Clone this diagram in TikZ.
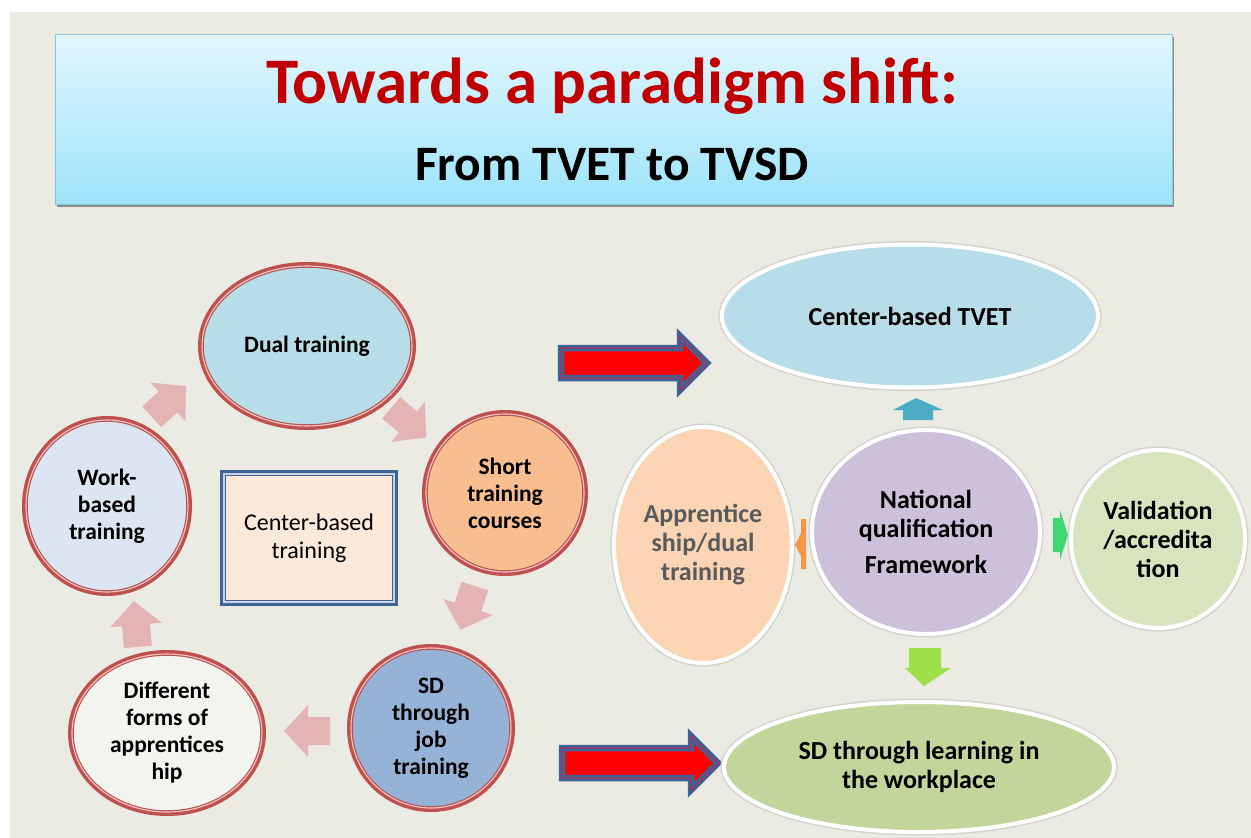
\documentclass[tikz,border=0pt]{standalone}
\usepackage{fontspec}
\setmainfont{Carlito}
\usetikzlibrary{shapes.geometric}
\definecolor{pagebg}{HTML}{EBEAE3}
\definecolor{ringred}{HTML}{C0504D}
\definecolor{ringpink}{HTML}{EDCBCA}
\definecolor{titlered}{HTML}{C00000}
\definecolor{titletop}{HTML}{E2F6FD}
\definecolor{titlebot}{HTML}{9DE4FA}
\definecolor{titleedge}{HTML}{86C8DA}
\definecolor{cycpink}{HTML}{E3B2B1}
\definecolor{boxblue}{HTML}{3F6496}
\definecolor{boxgap}{HTML}{C9D3E3}
\definecolor{arrowblue}{HTML}{3C6496}
\definecolor{arrowinner}{HTML}{A8305E}
\definecolor{dualfill}{HTML}{B7DDE8}
\definecolor{shortfill}{HTML}{F9BE8F}
\definecolor{jobfill}{HTML}{95B3D7}
\definecolor{formsfill}{HTML}{F4F4EF}
\definecolor{workfill}{HTML}{DCE6F2}
\definecolor{centerfill}{HTML}{FDE9D9}
\definecolor{tvetfill}{HTML}{B7DDE8}
\definecolor{placefill}{HTML}{C2D69B}
\definecolor{apprfill}{HTML}{FBD4B4}
\definecolor{apprtext}{HTML}{5A5A5A}
\definecolor{validfill}{HTML}{D7E4BD}
\definecolor{nqffill}{HTML}{CCC0DA}
\definecolor{upteal}{HTML}{4BACC6}
\definecolor{leftorange}{HTML}{F79646}
\definecolor{rightgreen}{HTML}{3DD870}
\definecolor{downlime}{HTML}{9EE04A}
\definecolor{glowshade}{HTML}{D5D4CC}
\begin{document}
\begin{tikzpicture}[x=1pt,y=-1pt,
  every node/.style={align=center, inner sep=0pt},
  ring/.style={ellipse, preaction={draw=ringred, line width=8pt},
    draw=ringred, double=ringpink, line width=1.2pt,
    double distance=1.1pt, text=black, font=\bfseries\fontsize{23.5}{27}\selectfont},
  glow/.style={ellipse, preaction={draw=glowshade, line width=7pt},
    draw=white, line width=4pt, text=black,
    font=\bfseries\fontsize{26}{29}\selectfont},
  cyc/.style={fill=cycpink, draw=none, opacity=0.95},
  cyclearrow/.pic={\path[cyc] (-22,-14) -- (0,-14) -- (0,-26) -- (24,0)
      -- (0,26) -- (0,14) -- (-22,14) -- cycle;},
  arrlen/.store in=\arrlen, arrlen=146,
  shiftarrow/.pic={
    \path[fill=red] ({-\arrlen/2},-15) -- ({\arrlen/2-27},-15) -- ({\arrlen/2-27},-27)
      -- ({\arrlen/2},0) -- ({\arrlen/2-27},27) -- ({\arrlen/2-27},15)
      -- ({-\arrlen/2},15) -- cycle;
    \draw[arrowblue, line width=6.5pt, line join=miter] ({-\arrlen/2},-15) -- ({\arrlen/2-27},-15)
      -- ({\arrlen/2-27},-27) -- ({\arrlen/2},0) -- ({\arrlen/2-27},27)
      -- ({\arrlen/2-27},15) -- ({-\arrlen/2},15) -- cycle;
    \draw[arrowinner, line width=1.3pt, line join=miter] ({-\arrlen/2},-15) -- ({\arrlen/2-27},-15)
      -- ({\arrlen/2-27},-27) -- ({\arrlen/2},0) -- ({\arrlen/2-27},27)
      -- ({\arrlen/2-27},15) -- ({-\arrlen/2},15) -- cycle;}
]
\useasboundingbox (0,0) rectangle (1251,838);
% page
\fill[white] (0,0) rectangle (1251,838);
\fill[pagebg] (10,12) rectangle (1251,838);

% title banner
\fill[black!45] (57,37) rectangle (1174,207);
\shade[top color=titletop, bottom color=titlebot] (55,34) rectangle (1172,204);
\draw[titleedge, line width=0.8pt] (55,34) rectangle (1172,204);
\node[text=titlered, font=\bfseries\fontsize{65}{72}\selectfont, anchor=base] (title) at (612,103) {Towards a paradigm shift:};
\node[text=black, font=\bfseries\fontsize{49.5}{56}\selectfont, anchor=base] (subtitle) at (612,180) {From TVET to TVSD};

% cycle of delivery forms
\node[ring, fill=dualfill, minimum width=210, minimum height=160] (dual) at (307,346) {Dual training};
\node[ring, fill=shortfill, minimum width=158, minimum height=158] (short) at (505,493) {Short\\training\\courses};
\node[ring, fill=jobfill, minimum width=160, minimum height=160] (job) at (431,728) {SD\\through\\job\\training};
\node[ring, fill=formsfill, minimum width=190, minimum height=158] (forms) at (167,733) {Different\\forms of\\apprentices\\hip};
\node[ring, fill=workfill, minimum width=162, minimum height=172] (work) at (107,506) {Work-\\based\\training};

\node[preaction={draw=boxblue, line width=8pt},
  draw=boxblue, double=boxgap, line width=1.3pt, double distance=1.4pt,
  fill=centerfill, minimum width=170, minimum height=128,
  font=\fontsize{24}{28}\selectfont] (center) at (309,538) {Center-based\\training};

\pic[rotate=42] at (168,402) {cyclearrow};
\pic[rotate=-40] at (408,422) {cyclearrow};
\pic[rotate=-108] at (468,607) {cyclearrow};
\pic[rotate=180] at (308,731) {cyclearrow};
\pic[rotate=95] at (136,625) {cyclearrow};

% shift arrows
\pic at (634,363) {shiftarrow};
\pic[arrlen=156] at (640,763) {shiftarrow};

% skills development system
\node[glow, fill=tvetfill, minimum width=376, minimum height=143] (tvet) at (910,316) {Center-based TVET};
\node[glow, fill=placefill, minimum width=390, minimum height=130] (workplace) at (919,767)
  {SD through learning in\\the workplace};
\node[glow, fill=apprfill, minimum width=178, minimum height=236, text=apprtext] (appr) at (703,545)
  {Apprentice\\ship/dual\\training};
\node[glow, fill=validfill, minimum width=174, minimum height=178] (valid) at (1158,539)
  {Validation\\/accredita\\tion};
\node[glow, fill=nqffill, minimum width=228, minimum height=204] (nqf) at (926,532)
  {National\\qualification\\[7pt]Framework};

% small connectors from the framework
\fill[upteal] (903,420) -- (903,410) -- (893,410) -- (916,398) -- (943,410)
  -- (933,410) -- (933,420) -- cycle;
\fill[leftorange] (806,519) -- (806,569) -- (801,569) -- (801,556) -- (795,545)
  -- (801,533) -- (801,519) -- cycle;
\fill[rightgreen] (1053,518) -- (1060,518) -- (1060,510) -- (1068,535) -- (1060,560)
  -- (1060,552) -- (1053,552) -- cycle;
\fill[downlime] (909,648) -- (941,648) -- (941,668) -- (951,668) -- (924,686)
  -- (905,668) -- (909,668) -- cycle;
\end{tikzpicture}
\end{document}
